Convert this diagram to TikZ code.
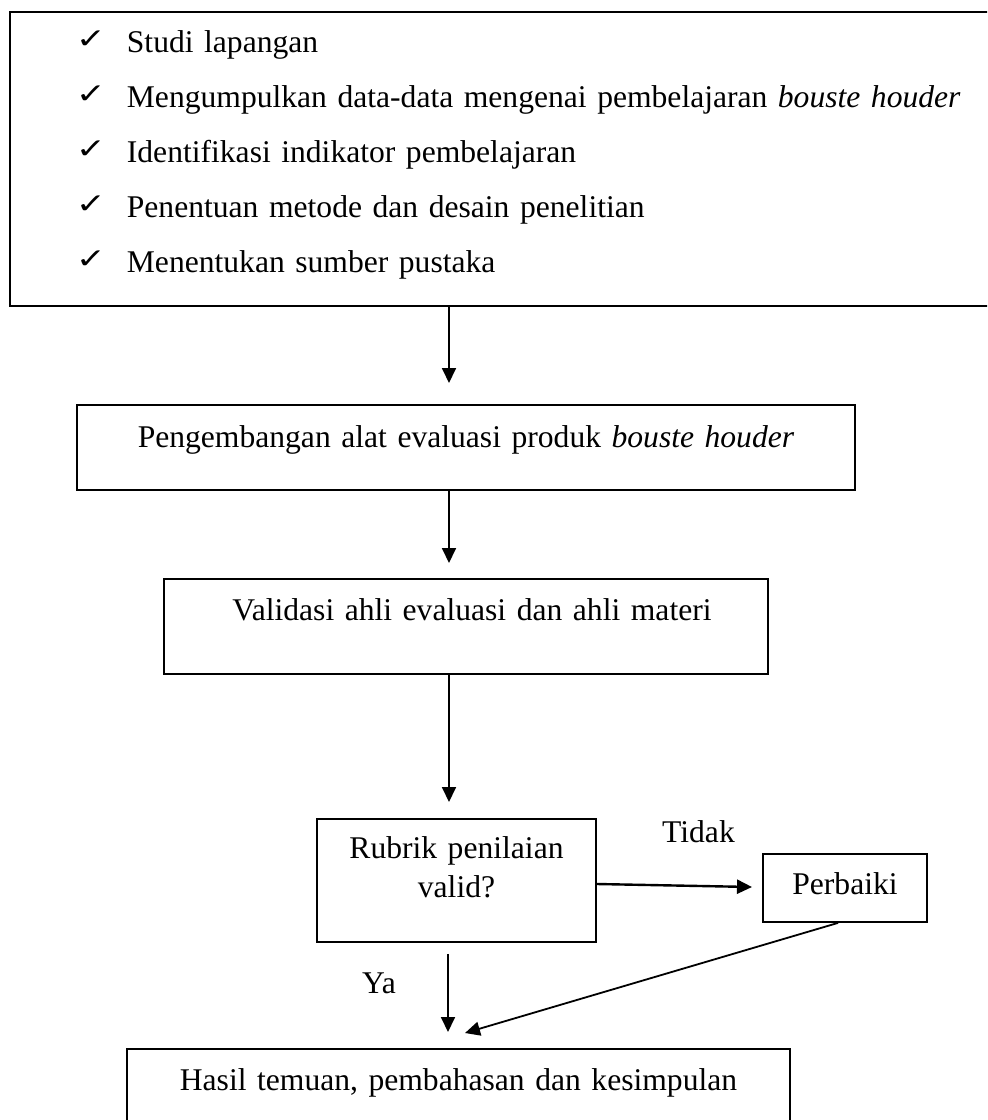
\documentclass[tikz,border=0pt]{standalone}
\usepackage{fontspec}
\setmainfont{Liberation Serif}
\newfontfamily\ckfont{DejaVu Sans}
\usetikzlibrary{arrows.meta}
\newcommand\ckitem[1]{\hspace*{33pt}\makebox[25.5pt][l]{\raisebox{2pt}{\scalebox{1}[0.78]{\ckfont\fontsize{18}{18}\selectfont ✓}}}#1}
\tikzset{
  box/.style={draw, line width=0.9pt, inner sep=0pt, anchor=base, align=center,
              font=\fontsize{15.8}{19.5}\selectfont},
  arr/.style={line width=0.9pt, -{Triangle[length=7.5pt,width=7pt]}},
  lbl/.style={inner sep=0pt, anchor=base, font=\fontsize{15.8}{19.5}\selectfont}
}
\begin{document}
\begin{tikzpicture}[x=0.5pt,y=-0.5pt]
\useasboundingbox (0,0) rectangle (987,1120);
\clip (0,0) rectangle (987,1120);

% boxes
\node[box, anchor=base west, align=left, text width=495.5pt, text height=20pt, text depth=127pt,
      font=\fontsize{15.8}{27.5}\selectfont] (top) at (9,52)
 {\ckitem{Studi lapangan}\\
  \ckitem{Mengumpulkan data-data mengenai pembelajaran \textit{bouste houder}}\\
  \ckitem{Identifikasi indikator pembelajaran}\\
  \ckitem{Penentuan metode dan desain penelitian}\\
  \ckitem{Menentukan sumber pustaka}};

\node[box, text width=389pt, text height=21pt, text depth=21.5pt] (b2) at (466,447)
 {Pengembangan alat evaluasi produk \textit{bouste houder}};
\node[box, text width=302pt, text height=20.5pt, text depth=27pt] (b3) at (466,620)
 {\hspace*{6pt}Validasi ahli evaluasi dan ahli materi};
\node[box, text width=139.5pt, text height=19.5pt, text depth=42pt] (rub) at (456.5,858)
 {Rubrik penilaian\\valid?};
\node[box, text width=82pt, text height=20pt, text depth=14pt] (perb) at (845,894)
 {Perbaiki};
\node[box, text width=331.5pt, text height=20.5pt, text depth=25pt] (hasil) at (458.5,1090)
 {Hasil temuan, pembahasan dan kesimpulan};

% labels
\node[lbl] (tidak) at (698.5,842) {Tidak};
\node[lbl] (ya) at (379,993) {Ya};

% connectors
\coordinate (t1) at (449,383);
\draw[arr] (top.south -| t1) -- (t1);
\coordinate (t2) at (449,563);
\draw[arr] (b2.south -| t2) -- (t2);
\coordinate (t3) at (449,802);
\draw[arr] (b3.south -| t3) -- (t3);
\coordinate (t4) at (752,887);
\draw[arr, line width=1.2pt] (rub.east |- 0,884) -- (t4);
\coordinate (t5) at (448,1032);
\draw[arr] ([yshift=-5.5pt]rub.south -| t5) -- (t5);
\coordinate (t6) at (465,1033);
\draw[arr] ([xshift=-3.5pt]perb.south) -- (t6);
\end{tikzpicture}
\end{document}
